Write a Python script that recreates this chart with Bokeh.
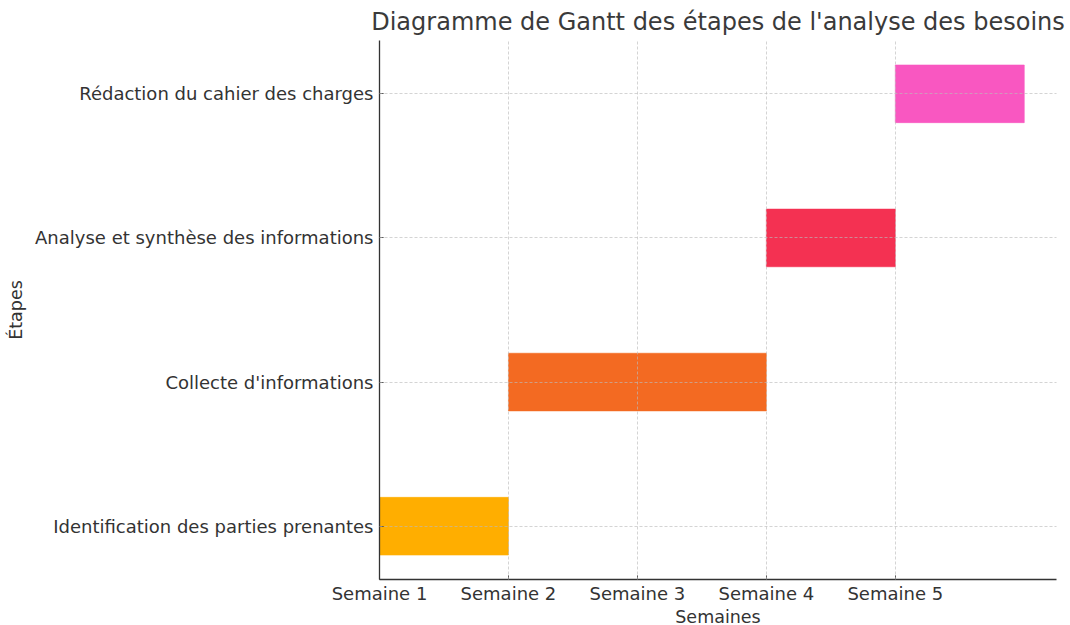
from bokeh.plotting import figure
from bokeh.models import FixedTicker, Range1d, ColumnDataSource
from bokeh.embed import file_html
from bokeh.resources import INLINE

tasks = ["Identification des parties prenantes", "Collecte d'informations",
         "Analyse et synthèse des informations", "Rédaction du cahier des charges"]
start_week = [0, 1, 3, 4]
duration_weeks = [1, 2, 1, 1]
colors = ["#FFAE00", "#F36A22", "#F43152", "#F957C1"]
week_labels = ["Semaine 1", "Semaine 2", "Semaine 3", "Semaine 4", "Semaine 5"]

ypos = list(range(len(tasks)))
ends = [s + d for s, d in zip(start_week, duration_weeks)]
src = ColumnDataSource(dict(y=ypos, left=start_week, right=ends, color=colors, task=tasks))

FONT = "DejaVu Sans"
TXT = "#333333"

p = figure(output_backend="svg", toolbar_location=None,
           frame_width=677, frame_height=539,
           min_border_left=379, min_border_top=32, min_border_bottom=46, min_border_right=13,
           x_range=Range1d(0, 5.25), y_range=Range1d(-0.37, 3.37),
           title="Diagramme de Gantt des étapes de l'analyse des besoins")

p.hbar(y="y", left="left", right="right", height=0.4, fill_color="color",
       line_color="color", line_alpha=0.6, source=src)

p.title.text_font = FONT
p.title.text_font_size = "24px"
p.title.text_font_style = "normal"
p.title.text_color = "#3a3a3a"
p.title.align = "center"

p.outline_line_color = None

for ax in (p.xaxis[0], p.yaxis[0]):
    ax.axis_line_color = "#333333"
    ax.axis_line_width = 1.3
    ax.major_tick_in = 4
    ax.major_tick_out = 0
    ax.major_tick_line_color = "#333333"
    ax.minor_tick_line_color = None
    ax.major_label_text_font = FONT
    ax.major_label_text_font_size = "18px"
    ax.major_label_text_color = TXT
    ax.axis_label_text_font = FONT
    ax.axis_label_text_font_size = "17.5px"
    ax.axis_label_text_font_style = "normal"
    ax.axis_label_text_color = TXT

p.xaxis.ticker = FixedTicker(ticks=list(range(len(week_labels))))
p.xaxis.major_label_overrides = {i: lab for i, lab in enumerate(week_labels)}
p.xaxis.axis_label = "Semaines"
p.xaxis.major_label_standoff = 3
p.xaxis.axis_label_standoff = 0

p.yaxis.ticker = FixedTicker(ticks=ypos)
p.yaxis.major_label_overrides = {i: t for i, t in enumerate(tasks)}
p.yaxis.axis_label = "Étapes"
p.yaxis.major_label_standoff = 6
p.yaxis.axis_label_standoff = 6

for g in (p.xgrid[0], p.ygrid[0]):
    g.grid_line_color = "#bbbbbb"
    g.grid_line_dash = "3 2"
    g.grid_line_width = 0.8
    g.grid_line_alpha = 0.8
    g.level = "overlay"

open("out.html", "w").write(file_html(p, INLINE))
